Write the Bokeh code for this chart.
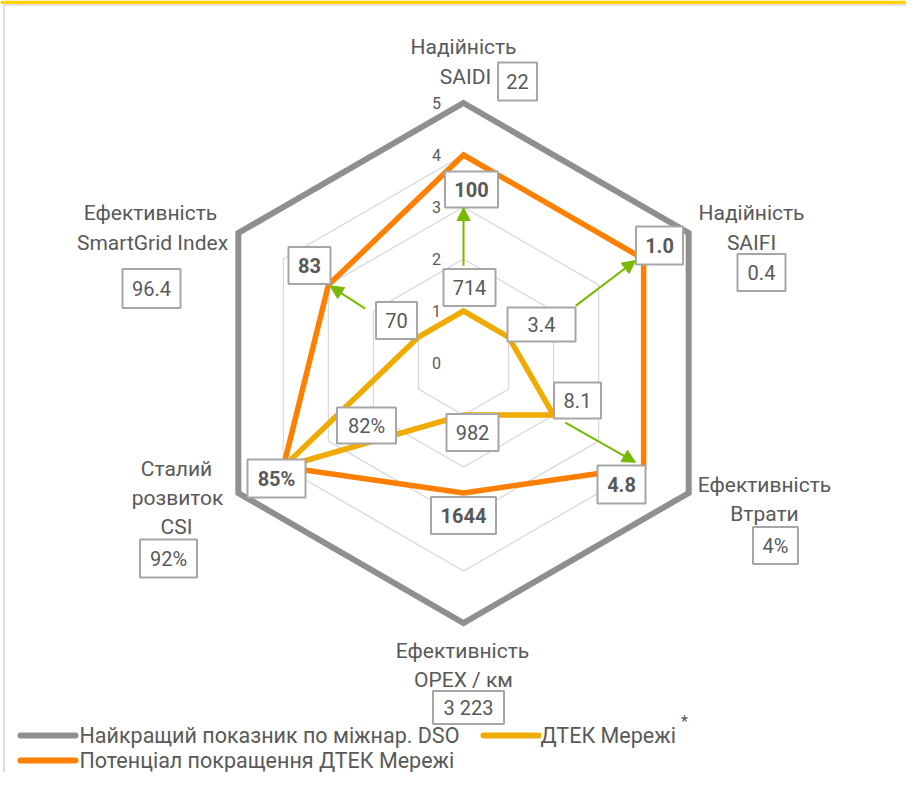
import math
from bokeh.plotting import figure
from bokeh.models import Range1d, Arrow, NormalHead, ColumnDataSource
from bokeh.core.properties import value
from bokeh.embed import file_html
from bokeh.resources import INLINE

# ---------------- data ----------------
AXIS_NAMES = [["Надійність", "SAIDI"], ["Надійність", "SAIFI"], ["Ефективність", "Втрати"],
              ["Ефективність", "OPEX / км"], ["Сталий", "розвиток", "CSI"],
              ["Ефективність", "SmartGrid Index"]]
BEST = [5, 5, 5, 5, 5, 5]
POTENTIAL = [4, 4, 4, 2.5, 4, 3]
DTEK = [1, 1, 2, 1, 4, 1]
BEST_LABELS = ["22", "0.4", "4%", "3 223", "92%", "96.4"]
POTENTIAL_LABELS = ["100", "1.0", "4.8", "1644", "85%", "83"]
DTEK_LABELS = ["714", "3.4", "8.1", "982", "82%", "70"]
TICKS = [0, 1, 2, 3, 4, 5]
SERIES_NAMES = ["Найкращий показник по міжнар. DSO", "ДТЕК Мережі", "Потенціал покращення ДТЕК Мережі"]

# ---------------- layout (reference pixels) ----------------
CX, CY, UNIT = 463.0, 362.5, 52.0
W, H = 906, 772
ANGLES = [90, 30, -30, -90, -150, 150]

def px(X, Y):
    return ((X - CX) / UNIT, (CY - Y) / UNIT)

def polar(vals):
    xs = [v * math.cos(math.radians(a)) for v, a in zip(vals, ANGLES)]
    ys = [v * math.sin(math.radians(a)) for v, a in zip(vals, ANGLES)]
    return xs, ys

GRAY = "#8F8F8F"
ORANGE = "#FF7F00"
YELLOW = "#F0AB00"
GREEN = "#76B900"
GRID = "#D9D9D9"
TEXT = "#595959"
BOX = "#A6A6A6"
BAND = "#FFD200"
FRAME = "#C8C8C8"
FONT = "Roboto"

p = figure(width=W, height=H, output_backend="svg", toolbar_location=None,
           x_range=Range1d((0 - CX) / UNIT, (W - CX) / UNIT),
           y_range=Range1d((CY - H) / UNIT, (CY - 0) / UNIT),
           min_border=0, outline_line_color=None)
p.axis.visible = False
p.grid.visible = False
p.background_fill_color = "white"
p.border_fill_color = "white"

# slide decoration: yellow band and frame
b0 = px(0, 0); b1 = px(W, 3.5)
p.quad(left=b0[0], right=b1[0], top=b0[1], bottom=b1[1], fill_color=BAND, line_color=None)
f0 = px(3.5, 4.5); f1 = px(W, 4.5); f2 = px(3.5, H)
p.line([f1[0], f0[0], f2[0]], [f1[1], f0[1], f2[1]], line_color=FRAME, line_width=1.2)

# grid hexagons
for t in TICKS[1:]:
    xs, ys = polar([t] * 6)
    p.patch(xs, ys, fill_color=None, line_color=GRID, line_width=1.3, line_join="miter")

# series
for vals, col, lw in [(BEST, GRAY, 6), (POTENTIAL, ORANGE, 5.5), (DTEK, YELLOW, 5.5)]:
    xs, ys = polar(vals)
    p.patch(xs, ys, fill_color=None, line_color=col, line_width=lw, line_join="miter")

# tick labels
tx = [px(436, 0)[0]] * len(TICKS)
p.text(tx, TICKS, text=[str(t) for t in TICKS], text_align="center", text_baseline="middle",
       text_color=TEXT, text_font=value(FONT), text_font_size="16px")

# arrows from current value labels toward potential
ARROW_FROM = [(90, 1.87), (27, 2.42), (-30.3, 2.27), (151, 2.16)]
ARROW_TO = [(90, 2.99), (30.8, 3.85), (-30, 3.82), (150, 2.96)]
for (a0, r0), (a1, r1) in zip(ARROW_FROM, ARROW_TO):
    p.add_layout(Arrow(end=NormalHead(size=13, fill_color=GREEN, line_color=GREEN),
                       x_start=r0 * math.cos(math.radians(a0)), y_start=r0 * math.sin(math.radians(a0)),
                       x_end=r1 * math.cos(math.radians(a1)), y_end=r1 * math.sin(math.radians(a1)),
                       line_color=GREEN, line_width=2))

# value boxes
BEST_POS = [(517, 81), (761, 272), (775, 545), (468, 707), (168, 558), (151, 288)]
BEST_SIZE = [(39, 38), (48, 37), (45, 37), (71, 33), (57, 38), (58, 39)]
POT_POS = [(471, 189), (659, 245), (621, 484), (463, 515), (276, 478), (309, 265)]
POT_SIZE = [(53, 36), (47, 38), (48, 38), (65, 37), (58, 38), (42, 37)]
DTEK_POS = [(469, 287), (541, 324), (577, 400), (472, 432), (366, 425), (396, 320)]
DTEK_SIZE = [(52, 37), (68, 34), (47, 36), (52, 37), (59, 36), (41, 37)]

for labels, pos, size, style in [(BEST_LABELS, BEST_POS, BEST_SIZE, "normal"),
                                 (POTENTIAL_LABELS, POT_POS, POT_SIZE, "bold"),
                                 (DTEK_LABELS, DTEK_POS, DTEK_SIZE, "normal")]:
    xs = [px(*q)[0] for q in pos]
    ys = [px(*q)[1] for q in pos]
    src = ColumnDataSource(dict(x=xs, y=ys, w=[s[0] for s in size], h=[s[1] for s in size], t=labels))
    p.rect("x", "y", width="w", height="h", width_units="screen", height_units="screen",
           source=src, fill_color="white", line_color=BOX, line_width=2)
    p.text("x", "y", text="t", source=src, text_align="center", text_baseline="middle",
           text_color=TEXT, text_font=value(FONT), text_font_size="20px", text_font_style=style)

# category labels
NAME_POS = [[(463, 46), (465, 76)], [(751, 212), (751, 242)], [(764, 484), (764, 513)],
            [(462, 650), (463, 679)], [(176, 468), (177, 497), (176, 526)],
            [(150, 212), (152, 242)]]
nx, ny, nt = [], [], []
for names, poss in zip(AXIS_NAMES, NAME_POS):
    for n, q in zip(names, poss):
        x, y = px(*q)
        nx.append(x); ny.append(y); nt.append(n)
p.text(nx, ny, text=nt, text_align="center", text_baseline="middle", text_color=TEXT,
       text_font=value(FONT), text_font_size="21px")

# legend
LEG_LINE = [((20, 75), 735), ((483, 538), 735), ((20, 75), 760)]
LEG_TEXT = [(79, 735), (540, 735), (79, 760)]
for (xr, y), col in zip(LEG_LINE, [GRAY, YELLOW, ORANGE]):
    a = px(xr[0], y); b = px(xr[1], y)
    p.line([a[0], b[0]], [a[1], b[1]], line_color=col, line_width=6, line_cap="round")
lx = [px(*q)[0] for q in LEG_TEXT]
ly = [px(*q)[1] for q in LEG_TEXT]
p.text(lx, ly, text=SERIES_NAMES, text_align="left", text_baseline="middle", text_color=TEXT,
       text_font=value(FONT), text_font_size="21.5px")
ax_, ay_ = px(684, 721)
p.text([ax_], [ay_], text=["*"], text_align="center", text_baseline="middle", text_color=TEXT,
       text_font=value(FONT), text_font_size="16px")

open("out.html", "w").write(file_html(p, INLINE))
